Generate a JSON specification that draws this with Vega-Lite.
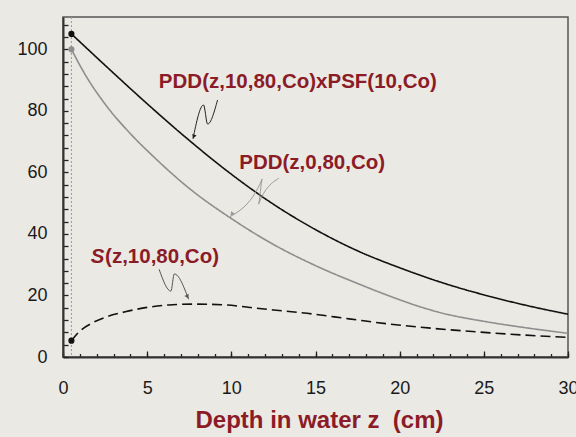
{
  "$schema": "https://vega.github.io/schema/vega-lite/v6.json",
  "autosize": "none",
  "width": 505,
  "height": 340,
  "padding": {"left": 63, "top": 17, "right": 8, "bottom": 80},
  "background": "#ebe9e4",
  "config": {
    "view": {"stroke": "#555555", "strokeWidth": 1.5},
    "font": "Liberation Sans"
  },
  "datasets": {
    "curves": [
      {"series": "psf", "z": 0.5, "v": 105},
      {"series": "psf", "z": 2.5, "v": 94.8},
      {"series": "psf", "z": 5, "v": 82.3},
      {"series": "psf", "z": 7.5, "v": 70.4},
      {"series": "psf", "z": 10, "v": 59.4},
      {"series": "psf", "z": 12.5, "v": 49.65},
      {"series": "psf", "z": 15, "v": 41.4},
      {"series": "psf", "z": 17.5, "v": 34.5},
      {"series": "psf", "z": 20, "v": 29.0},
      {"series": "psf", "z": 22.5, "v": 24.2},
      {"series": "psf", "z": 25, "v": 20.2},
      {"series": "psf", "z": 27.5, "v": 16.8},
      {"series": "psf", "z": 30, "v": 13.9},
      {"series": "pdd", "z": 0.5, "v": 100},
      {"series": "pdd", "z": 1.25, "v": 92.4},
      {"series": "pdd", "z": 2.5, "v": 82.2},
      {"series": "pdd", "z": 4, "v": 72.6},
      {"series": "pdd", "z": 5.4, "v": 65.0},
      {"series": "pdd", "z": 7.5, "v": 54.8},
      {"series": "pdd", "z": 10, "v": 45},
      {"series": "pdd", "z": 12.3, "v": 37.2},
      {"series": "pdd", "z": 15.2, "v": 29.2},
      {"series": "pdd", "z": 17.5, "v": 23.9},
      {"series": "pdd", "z": 19.5, "v": 19.6},
      {"series": "pdd", "z": 21, "v": 16.7},
      {"series": "pdd", "z": 22.5, "v": 14.3},
      {"series": "pdd", "z": 25, "v": 11.6},
      {"series": "pdd", "z": 27.5, "v": 9.5},
      {"series": "pdd", "z": 30, "v": 7.7},
      {"series": "s", "z": 0.5, "v": 5.3},
      {"series": "s", "z": 1, "v": 8.4},
      {"series": "s", "z": 1.75, "v": 11.1},
      {"series": "s", "z": 2.5, "v": 12.9},
      {"series": "s", "z": 3.7, "v": 14.7},
      {"series": "s", "z": 5.1, "v": 16.2},
      {"series": "s", "z": 6.5, "v": 17.0},
      {"series": "s", "z": 7.7, "v": 17.2},
      {"series": "s", "z": 9.7, "v": 16.9},
      {"series": "s", "z": 11.1, "v": 16.1},
      {"series": "s", "z": 12.5, "v": 15.3},
      {"series": "s", "z": 14.5, "v": 14.2},
      {"series": "s", "z": 17, "v": 12.4},
      {"series": "s", "z": 19.4, "v": 10.7},
      {"series": "s", "z": 22, "v": 9.3},
      {"series": "s", "z": 25, "v": 8.0},
      {"series": "s", "z": 27.5, "v": 7.1},
      {"series": "s", "z": 30, "v": 6.4}
    ],
    "dots": [
      {"series": "psf", "z": 0.5, "v": 105},
      {"series": "pdd", "z": 0.5, "v": 100},
      {"series": "s", "z": 0.5, "v": 5.3}
    ],
    "squiggles": [
      {"series": "a_psf", "o": 1, "z": 9.18, "v": 83.5},
      {"series": "a_psf", "o": 2, "z": 8.59, "v": 75.7},
      {"series": "a_psf", "o": 3, "z": 8.35, "v": 81.9},
      {"series": "a_psf", "o": 4, "z": 7.72, "v": 70.9},
      {"series": "a_pdd", "o": 1, "z": 12.82, "v": 58.1},
      {"series": "a_pdd", "o": 2, "z": 11.62, "v": 49.7},
      {"series": "a_pdd", "o": 3, "z": 11.83, "v": 57.8},
      {"series": "a_pdd", "o": 4, "z": 9.92, "v": 45.6},
      {"series": "a_s", "o": 1, "z": 5.71, "v": 28.5},
      {"series": "a_s", "o": 2, "z": 6.41, "v": 21.4},
      {"series": "a_s", "o": 3, "z": 6.61, "v": 27.0},
      {"series": "a_s", "o": 4, "z": 7.46, "v": 18.75}
    ],
    "heads": [
      {"series": "a_psf", "z": 7.78, "v": 71.8},
      {"series": "a_pdd", "z": 10.05, "v": 46.6},
      {"series": "a_s", "z": 7.38, "v": 19.8}
    ],
    "labels": [
      {"label": "PDD(z,10,80,Co)xPSF(10,Co)", "z": 13.95, "v": 89.5},
      {"label": "PDD(z,0,80,Co)", "z": 14.8, "v": 63.1}
    ]
  },
  "layer": [
    {
      "data": {"values": [{"z": 0.5}]},
      "mark": {"type": "rule", "color": "#999999", "strokeWidth": 1, "strokeDash": [2, 2]},
      "encoding": {
        "x": {"field": "z", "type": "quantitative", "scale": {"domain": [0, 30]},
          "axis": {"orient": "bottom", "values": [0,1,2,3,4,5,6,7,8,9,10,11,12,13,14,15,16,17,18,19,20,21,22,23,24,25,26,27,28,29,30],
            "labels": false, "tickSize": -3.5, "tickColor": "#222222", "tickWidth": 1.3,
            "domainColor": "#333333", "domainWidth": 2, "grid": false, "title": null}}
      }
    },
    {
      "data": {"name": "curves"},
      "mark": {"type": "line", "strokeWidth": 1.6, "interpolate": "monotone"},
      "encoding": {
        "x": {"field": "z", "type": "quantitative", "scale": {"domain": [0, 30]},
          "axis": {"orient": "bottom", "values": [0, 5, 10, 15, 20, 25, 30], "tickSize": -6, "tickColor": "#222222",
            "tickWidth": 1.3, "domain": false, "grid": false, "labelFlush": false,
            "labelFontSize": 18, "labelColor": "#1a1a1a", "labelPadding": 28, "labelFont": "Liberation Sans",
            "title": "Depth in water z\u00a0\u00a0(cm)", "titleFont": "Liberation Sans", "titleFontSize": 24,
            "titleFontWeight": "bold", "titleColor": "#8b1c27", "titleX": 256, "titleY": 70,
            "titleAlign": "center", "titleBaseline": "alphabetic", "titleAnchor": "start"}},
        "y": {"field": "v", "type": "quantitative", "scale": {"domain": [0, 110.5], "nice": false},
          "axis": {"orient": "left", "values": [0,4,8,12,16,20,24,28,32,36,40,44,48,52,56,60,64,68,72,76,80,84,88,92,96,100,104,108],
            "labelExpr": "datum.value % 20 == 0 ? datum.label : ''", "tickSize": -5, "tickColor": "#222222",
            "tickWidth": 1.3, "domainColor": "#333333", "domainWidth": 2, "grid": false,
            "labelFontSize": 18, "labelColor": "#1a1a1a", "labelPadding": 21, "labelFont": "Liberation Sans",
            "title": null}},
        "color": {"field": "series", "type": "nominal", "legend": null,
          "scale": {"domain": ["psf", "pdd", "s", "a_psf", "a_pdd", "a_s"],
            "range": ["#111111", "#8e8e8e", "#111111", "#222222", "#9a9a9a", "#555555"]}},
        "strokeDash": {"field": "series", "type": "nominal", "legend": null,
          "scale": {"domain": ["psf", "pdd", "s"], "range": [[1, 0], [1, 0], [10, 5]]}}
      }
    },
    {
      "data": {"name": "dots"},
      "mark": {"type": "circle", "size": 38, "opacity": 1},
      "encoding": {
        "x": {"field": "z", "type": "quantitative", "axis": null},
        "y": {"field": "v", "type": "quantitative", "axis": null},
        "color": {"field": "series", "type": "nominal", "legend": null}
      }
    },
    {
      "data": {"name": "squiggles"},
      "mark": {"type": "line", "strokeWidth": 1, "interpolate": "monotone"},
      "encoding": {
        "x": {"field": "z", "type": "quantitative", "axis": null},
        "y": {"field": "v", "type": "quantitative", "axis": null},
        "order": {"field": "o", "type": "quantitative"},
        "detail": {"field": "series"},
        "color": {"field": "series", "type": "nominal", "legend": null}
      }
    },
    {
      "data": {"name": "heads"},
      "transform": [{"filter": "datum.series == 'a_psf'"}],
      "mark": {"type": "point", "shape": "triangle", "filled": true, "size": 22, "angle": 200, "opacity": 1},
      "encoding": {
        "x": {"field": "z", "type": "quantitative", "axis": null},
        "y": {"field": "v", "type": "quantitative", "axis": null},
        "color": {"field": "series", "type": "nominal", "legend": null}
      }
    },
    {
      "data": {"name": "heads"},
      "transform": [{"filter": "datum.series == 'a_pdd'"}],
      "mark": {"type": "point", "shape": "triangle", "filled": true, "size": 22, "angle": 220, "opacity": 1},
      "encoding": {
        "x": {"field": "z", "type": "quantitative", "axis": null},
        "y": {"field": "v", "type": "quantitative", "axis": null},
        "color": {"field": "series", "type": "nominal", "legend": null}
      }
    },
    {
      "data": {"name": "heads"},
      "transform": [{"filter": "datum.series == 'a_s'"}],
      "mark": {"type": "point", "shape": "triangle", "filled": true, "size": 22, "angle": 150, "opacity": 1},
      "encoding": {
        "x": {"field": "z", "type": "quantitative", "axis": null},
        "y": {"field": "v", "type": "quantitative", "axis": null},
        "color": {"field": "series", "type": "nominal", "legend": null}
      }
    },
    {
      "data": {"name": "labels"},
      "mark": {"type": "text", "font": "Liberation Sans", "fontWeight": "bold", "fontSize": 20.5,
        "color": "#8b1c27", "align": "center", "baseline": "middle"},
      "encoding": {
        "x": {"field": "z", "type": "quantitative", "axis": null},
        "y": {"field": "v", "type": "quantitative", "axis": null},
        "text": {"field": "label"}
      }
    },
    {
      "data": {"values": [{"label": "S", "z": 1.65, "v": 32.6}]},
      "mark": {"type": "text", "font": "Liberation Sans", "fontWeight": "bold", "fontStyle": "italic",
        "fontSize": 20.5, "color": "#8b1c27", "align": "left", "baseline": "middle"},
      "encoding": {
        "x": {"field": "z", "type": "quantitative", "axis": null},
        "y": {"field": "v", "type": "quantitative", "axis": null},
        "text": {"field": "label"}
      }
    },
    {
      "data": {"values": [{"label": "(z,10,80,Co)", "z": 2.5, "v": 32.6}]},
      "mark": {"type": "text", "font": "Liberation Sans", "fontWeight": "bold",
        "fontSize": 20.5, "color": "#8b1c27", "align": "left", "baseline": "middle"},
      "encoding": {
        "x": {"field": "z", "type": "quantitative", "axis": null},
        "y": {"field": "v", "type": "quantitative", "axis": null},
        "text": {"field": "label"}
      }
    }
  ],
  "resolve": {"axis": {"x": "independent", "y": "independent"}}
}
